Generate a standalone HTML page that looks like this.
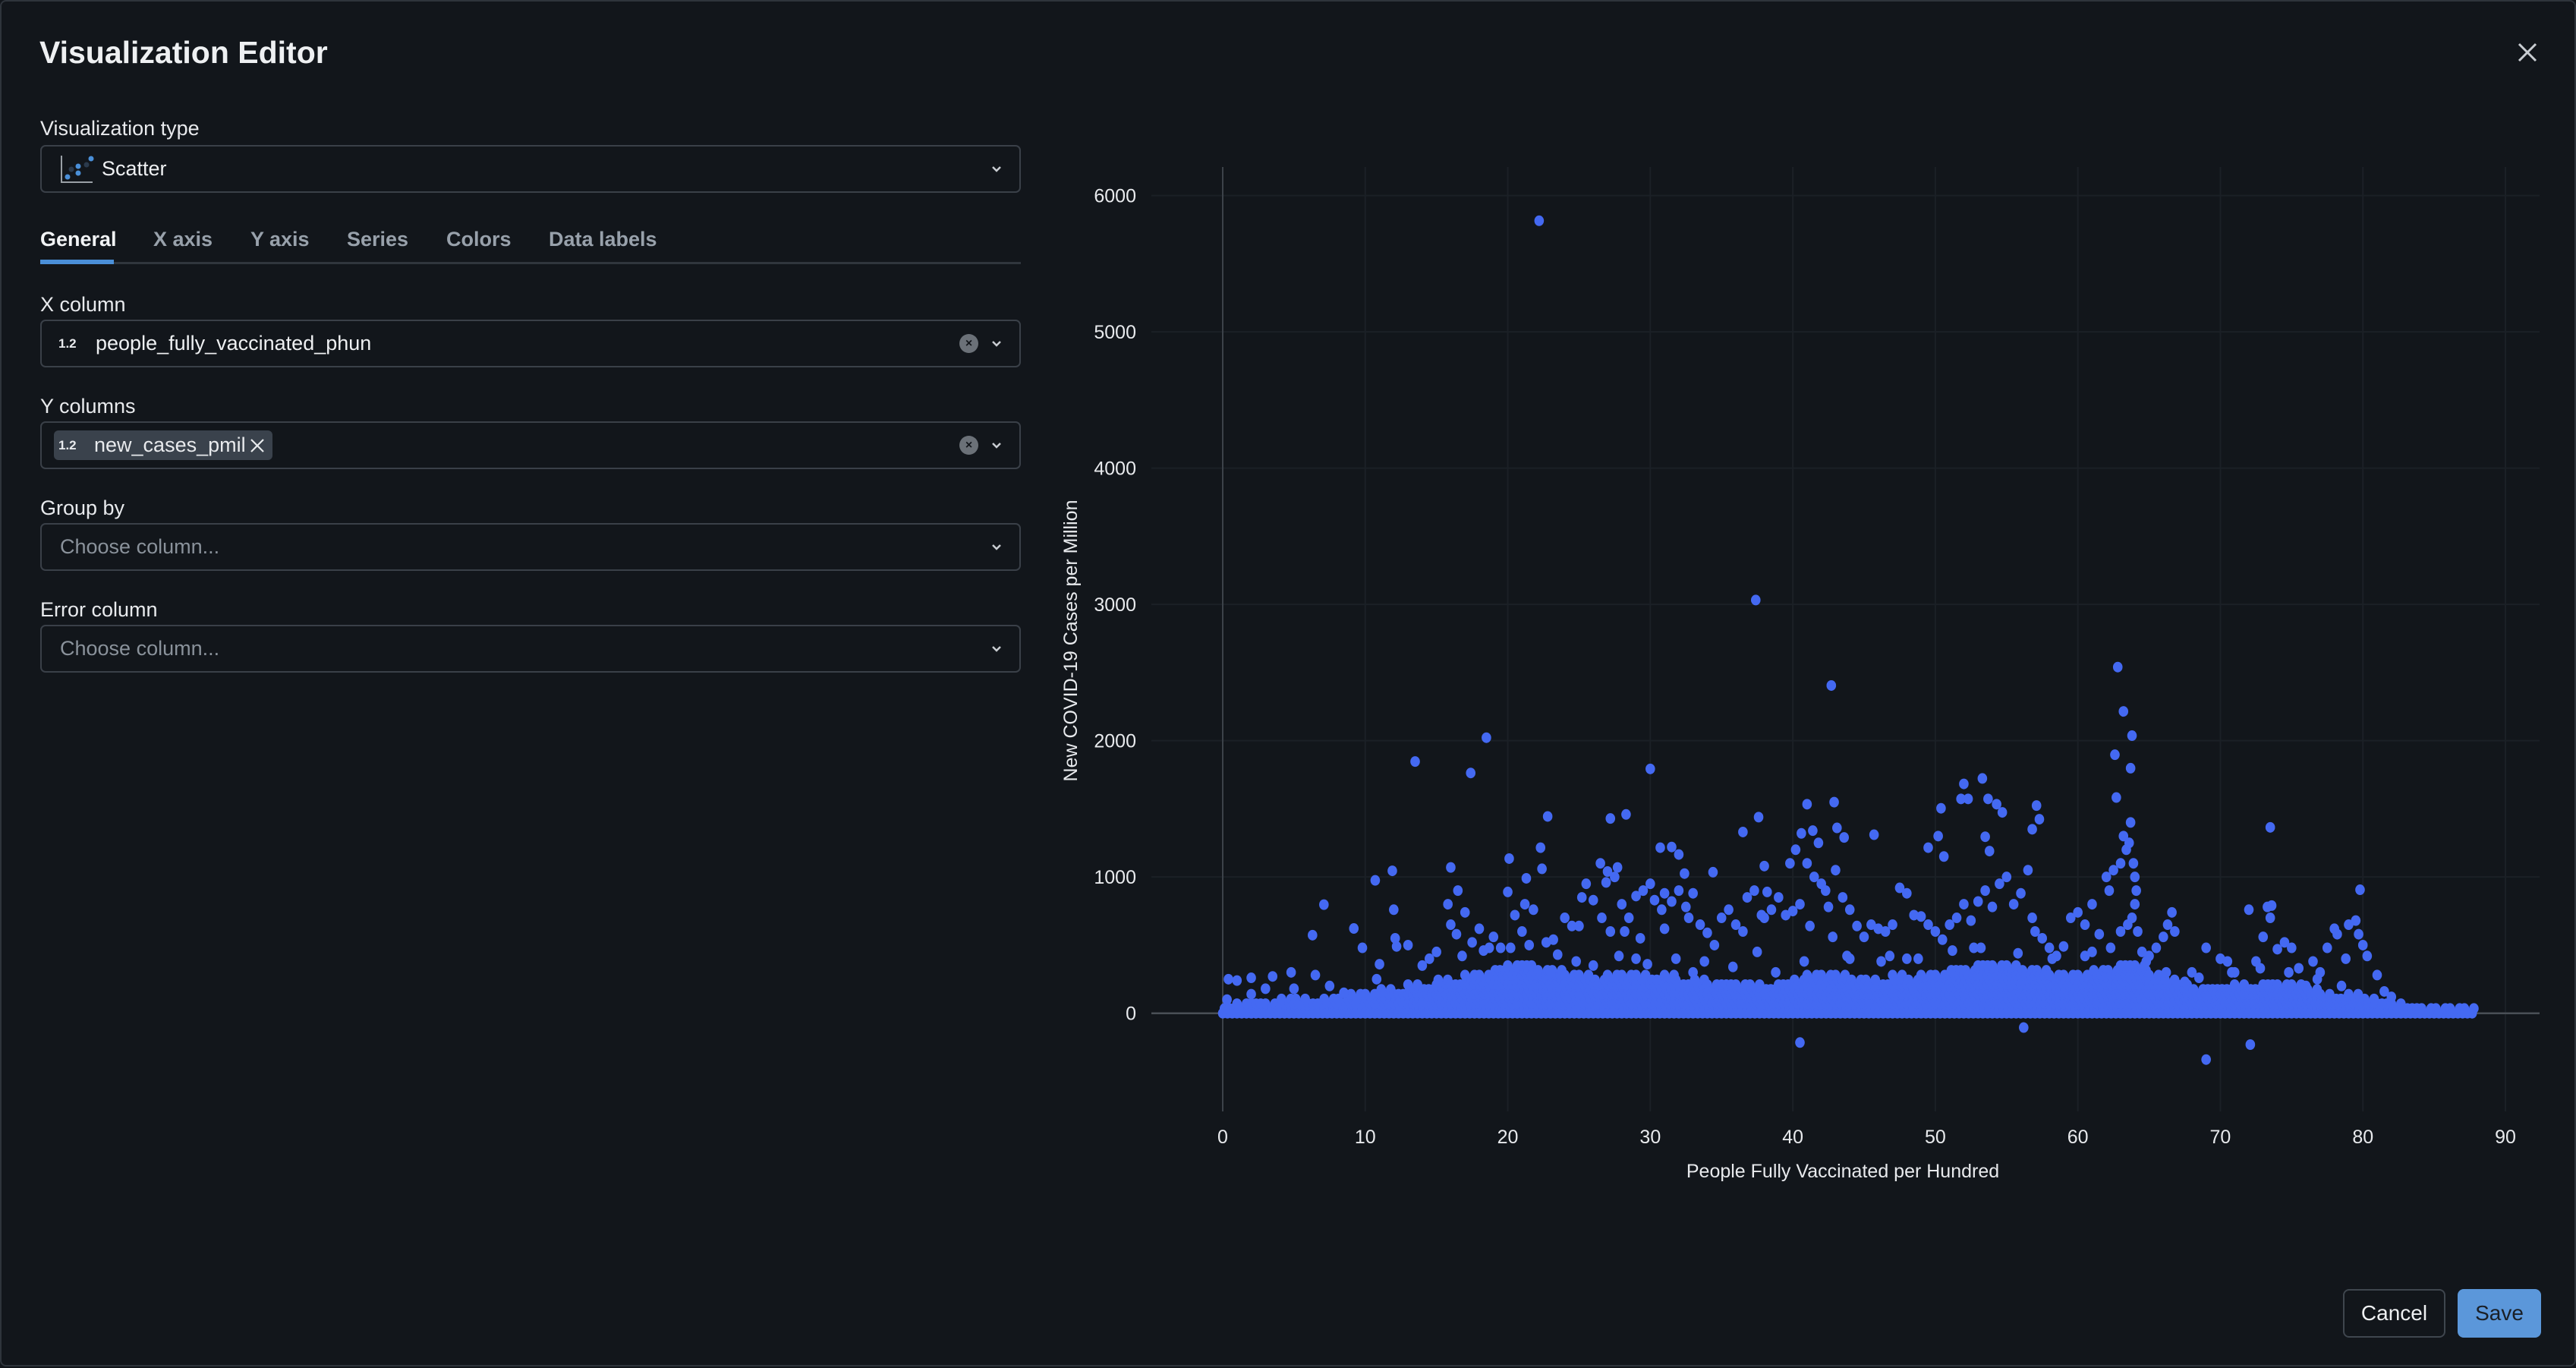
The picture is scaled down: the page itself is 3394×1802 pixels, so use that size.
<!DOCTYPE html>
<html><head><meta charset="utf-8">
<style>
*{box-sizing:border-box;margin:0;padding:0}
body{width:3394px;height:1800px;background:#12161b;font-family:"Liberation Sans",sans-serif;color:#e8eaed;position:relative;overflow:hidden}
.modal{position:absolute;left:0;top:0;width:3394px;height:1800px;border:2px solid #2e343b;border-radius:8px}
.abs{position:absolute}
.title{left:50px;top:44px;font-size:41px;font-weight:bold;color:#eef0f2}
.lbl{font-size:27px;color:#e8eaed}
.box{position:absolute;left:51px;width:1292px;height:63px;border:2px solid #3a4048;border-radius:7px}
.box .txt{position:absolute;top:14px;font-size:27px;color:#eef0f2}
.ph{color:#8a929b!important;left:24px}
.badge{position:absolute;left:22px;top:20px;font-size:17px;font-weight:bold;color:#e8eaed}
.chev{position:absolute;right:18px;top:18px;width:24px;height:24px}
.clr{position:absolute;right:54px;top:17px;width:25px;height:25px;border-radius:50%;background:#6b7178;color:#12161b;font-size:16px;text-align:center;line-height:25px;font-weight:bold}
.tab{position:absolute;top:298px;font-size:27px;font-weight:bold;color:#98a1ab}
</style></head><body>
<div class="modal">
<div class="abs title">Visualization Editor</div>
<svg class="abs" style="left:3315px;top:54px" width="26" height="26"><path d="M2 2L24 24M24 2L2 24" stroke="#c9cdd2" stroke-width="3"/></svg>

<div class="abs lbl" style="left:51px;top:152px">Visualization type</div>
<div class="box" style="top:189px">
 <svg class="abs" style="left:24px;top:11px" width="46" height="38">
  <path d="M2 1V36H43" stroke="#9aa0a6" stroke-width="2" fill="none"/>
  <circle cx="10" cy="29" r="3.5" fill="#4a8fd8"/><circle cx="24" cy="24" r="3.5" fill="#4a8fd8"/><circle cx="24" cy="15" r="3.5" fill="#4a8fd8"/><circle cx="15" cy="19" r="3.5" fill="#2b3a4c"/><circle cx="35" cy="13" r="3.5" fill="#2b3a4c"/><circle cx="41" cy="5" r="3.5" fill="#4a8fd8"/>
 </svg>
 <div class="txt" style="left:79px">Scatter</div>
 <svg class="chev" viewBox="0 0 24 24"><path d="M7 9l5 5 5-5" stroke="#c9cdd2" stroke-width="2.5" fill="none"/></svg>
</div>

<div class="tab" style="left:51px;color:#f2f4f6">General</div>
<div class="tab" style="left:200px">X axis</div>
<div class="tab" style="left:328px">Y axis</div>
<div class="tab" style="left:455px">Series</div>
<div class="tab" style="left:586px">Colors</div>
<div class="tab" style="left:721px">Data labels</div>
<div class="abs" style="left:51px;top:343px;width:1292px;height:3px;background:#30363d"></div>
<div class="abs" style="left:51px;top:340px;width:97px;height:6px;background:#4a8fd8"></div>

<div class="abs lbl" style="left:51px;top:384px">X column</div>
<div class="box" style="top:419px">
 <div class="badge">1.2</div>
 <div class="txt" style="left:71px">people_fully_vaccinated_phun</div>
 <div class="clr">×</div>
 <svg class="chev" viewBox="0 0 24 24"><path d="M7 9l5 5 5-5" stroke="#c9cdd2" stroke-width="2.5" fill="none"/></svg>
</div>

<div class="abs lbl" style="left:51px;top:518px">Y columns</div>
<div class="box" style="top:553px">
 <div class="abs" style="left:16px;top:10px;width:288px;height:39px;background:#3a424c;border-radius:6px">
  <div class="abs" style="left:6px;top:10px;font-size:17px;font-weight:bold">1.2</div>
  <div class="abs" style="left:53px;top:4px;font-size:27px">new_cases_pmil</div>
  <svg class="abs" style="left:258px;top:10px" width="20" height="20"><path d="M2 2L18 18M18 2L2 18" stroke="#e8eaed" stroke-width="2.2"/></svg>
 </div>
 <div class="clr">×</div>
 <svg class="chev" viewBox="0 0 24 24"><path d="M7 9l5 5 5-5" stroke="#c9cdd2" stroke-width="2.5" fill="none"/></svg>
</div>

<div class="abs lbl" style="left:51px;top:652px">Group by</div>
<div class="box" style="top:687px">
 <div class="txt ph">Choose column...</div>
 <svg class="chev" viewBox="0 0 24 24"><path d="M7 9l5 5 5-5" stroke="#c9cdd2" stroke-width="2.5" fill="none"/></svg>
</div>

<div class="abs lbl" style="left:51px;top:786px">Error column</div>
<div class="box" style="top:821px">
 <div class="txt ph">Choose column...</div>
 <svg class="chev" viewBox="0 0 24 24"><path d="M7 9l5 5 5-5" stroke="#c9cdd2" stroke-width="2.5" fill="none"/></svg>
</div>

<svg id="chart" class="abs" style="left:0;top:0" width="3394" height="1800"></svg>

<div class="abs" style="left:3085px;top:1696px;width:135px;height:64px;border:2px solid #3f464e;border-radius:8px;font-size:28px;text-align:center;line-height:60px;color:#eef0f2">Cancel</div>
<div class="abs" style="left:3236px;top:1696px;width:110px;height:64px;background:#5b97da;border-radius:8px;font-size:28px;text-align:center;line-height:64px;color:#1a1f26">Save</div>
</div>

<script>
const xTicks=[0,10,20,30,40,50,60,70,80,90];
const yTicks=[0,1000,2000,3000,4000,5000,6000];
const pointsX=[22.2,37.4,42.7,62.8,63.2,63.8,62.6,63.7,62.7,18.5,13.5,17.4,30.0,22.8,27.2,28.3,37.6,41.0,42.9,45.7,50.4,49.5,52.0,53.3,51.8,52.3,53.7,54.3,54.7,57.1,57.3,56.8,73.5,79.8,36.5,40.6,41.4,41.8,43.1,43.6,53.5,53.8,20.1,22.3,22.4,21.3,11.9,10.7,16.0,7.1,6.3,9.2,30.7,31.5,32.0,32.4,34.4,26.5,27.0,27.7,63.7,38.2,
15.8,16.5,17,17.5,16,16.4,18,19,15,14.5,18.7,12,12.1,12.2,11,10.8,9.8,13,
20,20.5,21.2,21.8,22.7,23.2,24,24.5,25,21,20.2,23,
25.2,25.5,26,26.6,26.9,27.5,28,28.5,29,29.5,30,30.3,30.8,31,31.5,32,32.5,33,28.2,27.2,29.3,31,32.7,33.5,34,34.5,35,35.5,36,36.5,33,26,29,
36.8,37.3,37.8,38,38.5,39,39.5,40,40.5,41,41.5,42,42.3,42.5,43,43.5,44,44.5,45,41.2,39.8,38,40.2,37.5,42.8,44,
45.5,46,46.5,47,47.5,48,48.5,49,49.5,50,50.5,51,51.5,52,52.5,53,53.5,54,54.5,55,55.5,56,56.5,56.8,57,57.5,58,46.8,50.2,50.6,48,52.7,
58.5,59,59.5,60,60.5,61,61.5,62,62.2,62.5,63,63.2,63.4,63.6,63.9,64,64.1,64,63.8,63.5,63,64.2,65,65.5,66,66.3,66.6,66.8,64.5,61,
67.5,68,69,70,70.5,71,72,72.5,73,73.3,73.6,73.5,74,74.5,75,75.5,76,77,77.5,78,78.2,79,79.5,79.7,80,80.3,81,81.5,82,76.5,78.8,
40.5,56.2,69,72.1,
0.4,1.0,2.0,3.5,4.8,6.5,2,3,5,7.5,8.5,0.3,
14,16.8,18.3,19.5,21.5,23.5,24.8,27.8,29.8,31.8,33.8,35.8,38.8,40.8,43.8,46.2,48.8,51.2,53.2,55.8,58.2,60.5,62.3,64.8,66.2,68.5,70.8,72.8,74.8,76.8,78.5];
const pointsY=[5815,3032,2405,2540,2215,2037,1897,1798,1583,2022,1847,1763,1793,1444,1429,1459,1439,1534,1549,1310,1504,1215,1683,1723,1573,1573,1573,1534,1474,1524,1424,1350,1364,906,1330,1320,1340,1250,1360,1290,1295,1190,1135,1215,1060,990,1045,975,1070,797,573,622,1215,1220,1165,1025,1035,1100,1040,1070,1400,890,
800,900,740,520,650,580,620,560,450,400,480,760,550,490,360,250,480,500,
890,720,800,760,520,540,700,640,640,600,480,300,
850,950,830,700,960,1000,800,700,860,900,950,830,760,880,820,900,780,880,600,600,550,620,700,650,590,500,700,760,650,600,300,350,400,
850,900,720,700,760,850,720,750,800,1100,1000,950,900,780,1050,850,760,640,560,640,1100,1080,1200,450,560,400,
650,620,600,650,920,880,720,710,650,600,540,650,700,800,680,820,900,780,950,1000,800,880,1050,700,600,550,480,420,1300,1150,400,480,
420,490,700,740,650,800,580,1000,900,1050,1100,1300,1200,1250,1100,1000,900,800,700,650,600,600,420,480,560,650,740,600,450,450,
230,300,480,400,380,300,760,380,560,780,790,700,470,520,480,330,200,300,480,620,580,650,680,580,500,420,280,160,120,380,400,
-215,-105,-340,-230,
250,240,260,270,300,280,140,180,180,200,150,100,
350,420,460,480,500,430,380,420,360,400,380,340,300,380,420,380,400,460,480,440,400,420,480,380,300,260,300,330,300,250,200];
const bandX=[0,1,2,3,4,5,6,7,8,9,10,11,12,13,14,15,16,17,18,19,20,21,22,23,24,25,26,27,28,29,30,31,32,33,34,35,36,37,38,39,40,41,42,43,44,45,46,47,48,49,50,51,52,53,54,55,56,57,58,59,60,61,62,63,64,65,66,67,68,69,70,71,72,73,74,75,76,77,78,79,80,81,82,83,84,85,86,87];
const bandTop=[60,80,100,90,120,110,100,120,110,150,140,180,170,220,200,260,240,300,280,340,360,380,330,320,280,280,260,300,290,300,270,280,240,260,230,240,210,220,200,240,250,300,290,300,260,260,240,280,260,300,300,340,330,380,350,360,320,330,300,300,280,320,330,380,360,300,250,220,190,200,200,220,200,240,220,220,180,150,130,140,120,100,70,60,45,50,35,40];

const NS="http://www.w3.org/2000/svg";
const svg=document.getElementById('chart');
const X0=1609,PXX=(3299-1609)/90;
const Y0=1332.7,PXY=(1332.7-255.6)/6000;
const sx=v=>X0+v*PXX, sy=v=>Y0-v*PXY;
function mk(t,a){const e=document.createElementNS(NS,t);for(const k in a)e.setAttribute(k,a[k]);svg.appendChild(e);return e;}
yTicks.forEach(t=>{if(t===0)return;const g=mk('line',{x1:1515,x2:3344,y1:sy(t),y2:sy(t),stroke:'#1b2026','stroke-width':2});

});
xTicks.forEach(t=>{if(t===0)return;const g=mk('line',{x1:sx(t),x2:sx(t),y1:218,y2:1462,stroke:'#1b2026','stroke-width':2});

});
const ya=mk('line',{x1:sx(0),x2:sx(0),y1:218,y2:1462,stroke:'#3c4249','stroke-width':2});


const zl=mk('line',{x1:1515,x2:3344,y1:sy(0),y2:sy(0),stroke:'#4a4f56','stroke-width':2.5});


yTicks.forEach(t=>{const e=mk('text',{x:1495,y:sy(t)+9,'text-anchor':'end','font-size':25,fill:'#e8eaed','font-family':'Liberation Sans, sans-serif'});e.textContent=t;

});
xTicks.forEach(t=>{const e=mk('text',{x:sx(t),y:1504,'text-anchor':'middle','font-size':25,fill:'#e8eaed','font-family':'Liberation Sans, sans-serif'});e.textContent=t;

});
const xt=mk('text',{x:2426,y:1549,'text-anchor':'middle','font-size':25,fill:'#e8eaed','font-family':'Liberation Sans, sans-serif'});xt.textContent='People Fully Vaccinated per Hundred';


const yt=mk('text',{x:0,y:0,'text-anchor':'middle','font-size':25,fill:'#e8eaed','font-family':'Liberation Sans, sans-serif',transform:'translate(1417,842) rotate(-90)'});yt.textContent='New COVID-19 Cases per Million';


const col='#4469f2';
bandX.forEach((bx,i)=>{for(let s=0;s<3;s++){const top=bandTop[i]-(s===1?25:0);for(let v=0;v<=top;v+=35){const c=mk('ellipse',{cx:sx(bx+s/3+(v%70?0.12:0)),cy:sy(v),rx:6.3,ry:7,fill:col});

}}});
pointsX.forEach((px,i)=>{const c=mk('ellipse',{cx:sx(px),cy:sy(pointsY[i]),rx:6.3,ry:7,fill:col});

});
</script>
</body></html>
